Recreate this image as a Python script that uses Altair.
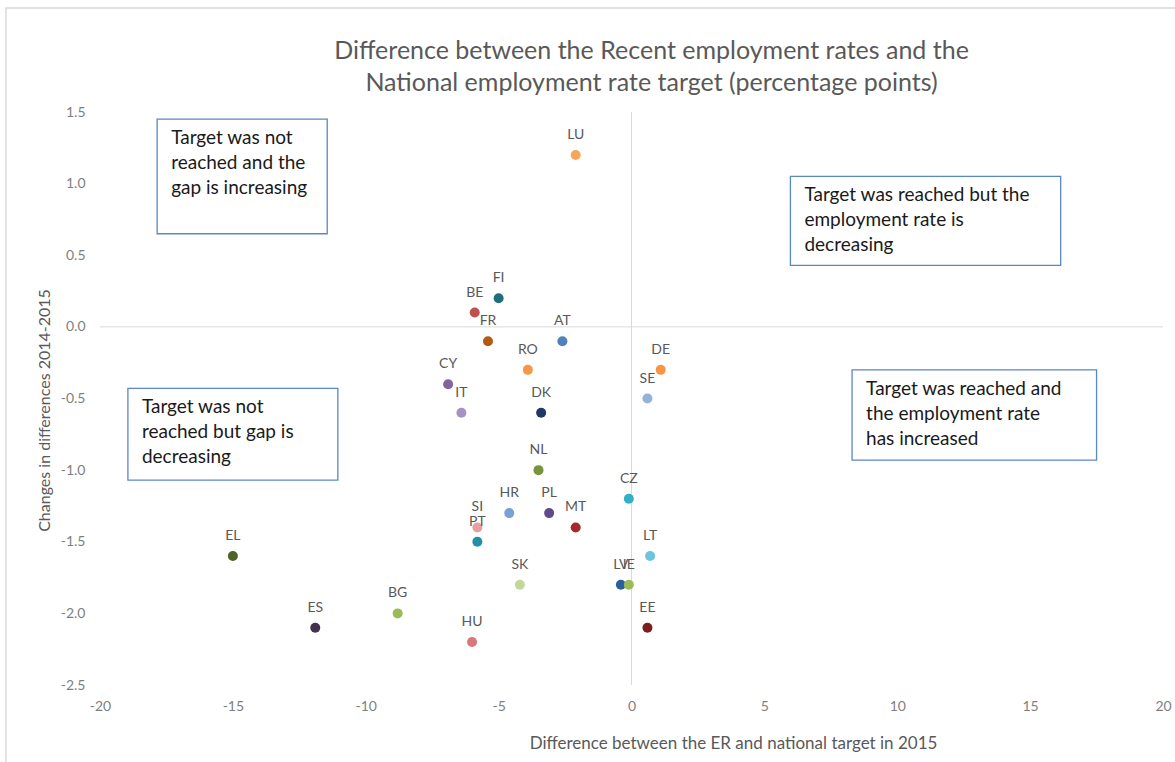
import altair as alt
import pandas as pd

countries = ["LU", "FI", "BE", "FR", "AT", "RO", "DE", "CY", "IT", "DK", "SE", "NL", "CZ", "HR",
             "PL", "SI", "MT", "PT", "LT", "EL", "SK", "LV", "IE", "BG", "ES", "EE", "HU"]
x_vals = [-2.1, -5.0, -5.9, -5.4, -2.6, -3.9, 1.1, -6.9, -6.4, -3.4, 0.6, -3.5, -0.1, -4.6,
          -3.1, -5.8, -2.1, -5.8, 0.7, -15.0, -4.2, -0.4, -0.1, -8.8, -11.9, 0.6, -6.0]
y_vals = [1.2, 0.2, 0.1, -0.1, -0.1, -0.3, -0.3, -0.4, -0.6, -0.6, -0.5, -1.0, -1.2, -1.3,
          -1.3, -1.4, -1.4, -1.5, -1.6, -1.6, -1.8, -1.8, -1.8, -2.0, -2.1, -2.1, -2.2]
colors = ["#F9A65A", "#1F6E7A", "#C0504D", "#B35A12", "#4F81BD", "#F79646", "#F79646", "#8064A2",
          "#A692C4", "#1F3864", "#95B3D7", "#77933C", "#31B0C8", "#7BA0D4",
          "#5F4B8B", "#E6A0A0", "#A52A2A", "#2390A5", "#6CC5DD", "#4F6228", "#C4D79B",
          "#2A5F9E", "#9BBB59", "#9BBB59", "#403152", "#7B1E1E", "#D9777A"]

box_text = [["Target was not", "reached and the", "gap is increasing"],
            ["Target was reached but the", "employment rate is", "decreasing"],
            ["Target was not", "reached but gap is", "decreasing"],
            ["Target was reached and", "the employment rate", "has increased"]]
box_x1 = [-17.85, 5.98, -18.95, 8.3]
box_x2 = [-11.45, 16.15, -11.05, 17.5]
box_y1 = [1.45, 1.05, -0.43, -0.30]
box_y2 = [0.65, 0.43, -1.07, -0.93]

FONT = "Lato"
GRAY = "#595959"

df = pd.DataFrame({"c": countries, "x": x_vals, "y": y_vals, "col": colors})
boxes = pd.DataFrame({"t": box_text, "x1": box_x1, "x2": box_x2, "y1": box_y1, "y2": box_y2})

xs = alt.Scale(domain=[-20, 20], nice=False, zero=False)
ys = alt.Scale(domain=[-2.5, 1.5], nice=False, zero=False)

HYPHEN = "replace(datum.label, '\u2212', '-')"

xaxis = alt.Axis(values=list(range(-20, 25, 5)), grid=False, domain=False, ticks=False,
                 labelPadding=14, labelFontSize=14, labelColor="#7F7F7F", labelFont=FONT,
                 labelFlush=False, labelExpr=HYPHEN,
                 title="Difference between the ER and national  target in 2015",
                 titleFontSize=17, titleFontWeight="normal", titleColor=GRAY, titleFont=FONT,
                 titleX=633, titleY=50, titleAnchor="middle", zindex=2)
yaxis = alt.Axis(values=[-2.5, -2.0, -1.5, -1.0, -0.5, 0.0, 0.5, 1.0, 1.5], format=".1f",
                 grid=False, domain=False, ticks=False, labelPadding=15, labelFontSize=14,
                 labelColor="#7F7F7F", labelFont=FONT, labelFlush=False, labelExpr=HYPHEN,
                 title="Changes in differences 2014-2015", titleFontSize=16,
                 titleFontWeight="normal", titleColor=GRAY, titleFont=FONT,
                 titleX=-48, titleY=298, titleAnchor="middle", zindex=2)

frame = alt.Chart(pd.DataFrame({"a": [0]})).mark_rect(
    fill="white", stroke="#D9D9D9", strokeWidth=1.5
).encode(x=alt.value(-94), x2=alt.value(1080), y=alt.value(-104), y2=alt.value(690))

zero_h = alt.Chart(pd.DataFrame({"y": [0]})).mark_rule(color="#D9D9D9", strokeWidth=1).encode(
    y=alt.Y("y:Q", scale=ys, axis=yaxis))
zero_v = alt.Chart(pd.DataFrame({"x": [0]})).mark_rule(color="#D9D9D9", strokeWidth=1).encode(
    x=alt.X("x:Q", scale=xs, axis=xaxis))

rects = alt.Chart(boxes).mark_rect(fill="white", stroke="#5A87C5", strokeWidth=1.3).encode(
    x=alt.X("x1:Q", scale=xs, axis=xaxis), x2="x2:Q",
    y=alt.Y("y1:Q", scale=ys, axis=yaxis), y2="y2:Q")
rtext = alt.Chart(boxes).mark_text(align="left", baseline="top", dx=14, dy=10, fontSize=19,
                                   font=FONT, color="#1A1A1A", lineHeight=25).encode(
    x=alt.X("x1:Q", scale=xs), y=alt.Y("y1:Q", scale=ys), text="t")

pts = alt.Chart(df).mark_circle(size=100, opacity=1).encode(
    x=alt.X("x:Q", scale=xs, axis=xaxis), y=alt.Y("y:Q", scale=ys, axis=yaxis),
    color=alt.Color("col:N", scale=None))
labels = alt.Chart(df).mark_text(dy=-20, fontSize=14, font=FONT, color=GRAY).encode(
    x=alt.X("x:Q", scale=xs), y=alt.Y("y:Q", scale=ys), text="c")

chart = alt.layer(frame, zero_h, zero_v, rects, rtext, pts, labels).properties(
    width=1063, height=573,
    autosize=alt.AutoSizeParams(type="none"),
    padding={"left": 100, "top": 112, "right": 12, "bottom": 77},
    title=alt.TitleParams(
        ["Difference between the Recent employment rates and the",
         "National employment rate  target (percentage points)"],
        fontSize=25, font=FONT, fontWeight="normal", color=GRAY, anchor="middle",
        frame="group", dx=20, offset=-89, lineHeight=32),
).configure_view(stroke=None)

chart.save("out.html", embed_options={"renderer": "svg", "actions": False})
